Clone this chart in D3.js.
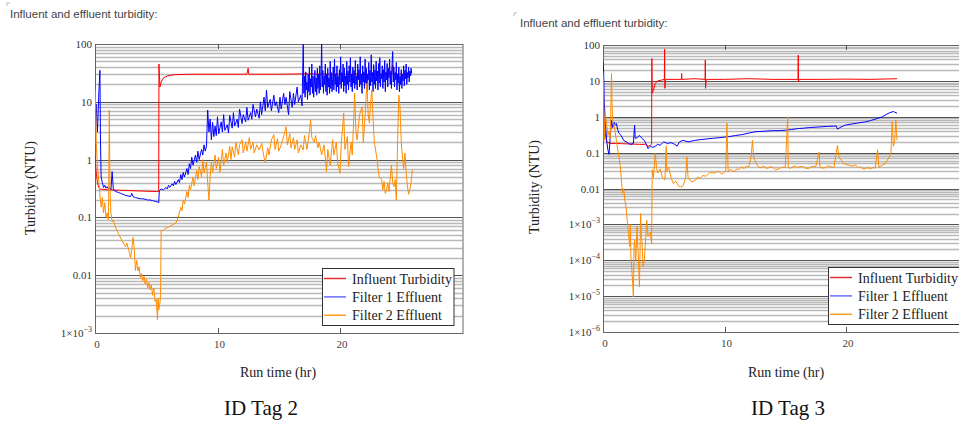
<!DOCTYPE html>
<html>
<head>
<meta charset="utf-8">
<script src="https://cdn.jsdelivr.net/npm/d3@7"></script>
<style>
  body { margin: 0; background: #fff; }
  svg { display: block; }
</style>
</head>
<body>
<div id="chart"></div>
<script>
// ---------- data ----------
const xTicks = [0, 10, 20];
const seriesNames = ["Influent Turbidity", "Filter 1 Effluent", "Filter 2 Effluent"];

const tag2YTicks = [100, 10, 1, 0.1, 0.01, 0.001];
const tag2YLabels = ["100", "10", "1", "0.1", "0.01", "1×10^-3"];
const tag3YTicks = [100, 10, 1, 0.1, 0.01, 1e-3, 1e-4, 1e-5, 1e-6];
const tag3YLabels = ["100", "10", "1", "0.1", "0.01", "1×10^-3", "1×10^-4", "1×10^-5", "1×10^-6"];

// ID Tag 2 : [run time (hr), turbidity (NTU)]
const tag2Influent = [
  [0, 1.2], [0.1, 0.6], [0.2, 0.4], [0.3, 0.33], [0.43, 0.31], [1, 0.3], [2, 0.295], [3, 0.29],
  [4, 0.285], [5, 0.28], [5.2, 0.28], [5.22, 45], [5.3, 18], [5.4, 22], [5.6, 26], [5.9, 28],
  [6.5, 29.5], [8, 30], [10, 30], [12.4, 30], [12.5, 38], [12.55, 30], [15, 30], [17, 30.5],
  [20, 30], [24.2, 30], [24.3, 43], [24.35, 30], [25.85, 30]
];
const tag2Filter1 = [
  [0, 5], [0.1, 9], [0.2, 3], [0.3, 12], [0.4, 35], [0.45, 2], [0.5, 0.5], [0.6, 0.4], [0.7, 0.33],
  [0.8, 0.36], [0.9, 0.32], [1.0, 0.34], [1.1, 0.31], [1.2, 0.33], [1.3, 0.3], [1.4, 0.62], [1.5, 0.3],
  [1.7, 0.28], [1.9, 0.27], [2.1, 0.26], [2.3, 0.25], [2.5, 0.24], [2.7, 0.235], [2.9, 0.23], [3.0, 0.26],
  [3.1, 0.23], [3.3, 0.22], [3.5, 0.215], [3.7, 0.21], [3.9, 0.21], [4.1, 0.205], [4.3, 0.2], [4.5, 0.2],
  [4.7, 0.195], [4.9, 0.19], [5.1, 0.185], [5.2, 0.18], [5.25, 0.29], [5.4, 0.31], [5.6, 0.3], [5.8, 0.33],
  [5.9, 0.31], [6.0, 0.36], [6.1, 0.33], [6.3, 0.38], [6.4, 0.35], [6.5, 0.42], [6.6, 0.37], [6.8, 0.45],
  [6.9, 0.4], [7.0, 0.55], [7.1, 0.45], [7.2, 0.6], [7.3, 0.5], [7.5, 0.7], [7.6, 0.55], [7.7, 0.85],
  [7.8, 0.7], [7.9, 1.1], [8.0, 0.8], [8.2, 1.2], [8.3, 0.9], [8.4, 1.4], [8.5, 1.0], [8.7, 1.5],
  [8.8, 1.2], [8.9, 1.8], [9.0, 1.4], [9.1, 1.7], [9.2, 7.2], [9.3, 3.0], [9.4, 5.0], [9.5, 2.2],
  [9.6, 4.4], [9.7, 2.5], [9.8, 3.8], [9.9, 2.6], [10.0, 5.5], [10.1, 2.8], [10.3, 4.5], [10.4, 3.0],
  [10.5, 6.0], [10.6, 3.2], [10.8, 4.0], [10.9, 2.9], [11.0, 5.8], [11.2, 3.5], [11.3, 6.5], [11.4, 3.8],
  [11.6, 5.0], [11.7, 3.6], [11.8, 7.5], [12.0, 4.2], [12.1, 6.0], [12.3, 4.5], [12.4, 8.0], [12.5, 4.8],
  [12.7, 6.5], [12.8, 5.0], [12.9, 9.0], [13.1, 5.5], [13.2, 7.5], [13.4, 5.2], [13.5, 10], [13.6, 6.0],
  [13.8, 12], [13.9, 7.0], [14.0, 16], [14.1, 8.0], [14.3, 11], [14.4, 7.0], [14.6, 13], [14.7, 8.5],
  [14.8, 10], [15.0, 6.5], [15.1, 12], [15.2, 7.5], [15.4, 14], [15.5, 9.0], [15.6, 12], [15.8, 6.0],
  [15.9, 15], [16.1, 8.0], [16.2, 14], [16.3, 9.0], [16.5, 18], [16.6, 10], [16.8, 13], [16.9, 8.5],
  [17.00, 100], [17.05, 14], [17.10, 28], [17.15, 12], [17.20, 33], [17.25, 16], [17.30, 22], [17.35, 11],
  [17.40, 30], [17.45, 15], [17.50, 40], [17.55, 13], [17.60, 25], [17.65, 18], [17.70, 45], [17.75, 14],
  [17.80, 28], [17.85, 12], [17.90, 20], [17.95, 35], [18.00, 15], [18.05, 26], [18.10, 13], [18.15, 38],
  [18.20, 17], [18.25, 30], [18.30, 14], [18.35, 42], [18.40, 16], [18.45, 24], [18.50, 100], [18.55, 18],
  [18.60, 35], [18.65, 14], [18.70, 28], [18.75, 20], [18.80, 45], [18.85, 15], [18.90, 30], [18.95, 13],
  [19.00, 38], [19.05, 18], [19.10, 26], [19.15, 14], [19.20, 50], [19.25, 17], [19.30, 32], [19.35, 15],
  [19.40, 24], [19.45, 40], [19.50, 16], [19.55, 55], [19.60, 20], [19.65, 30], [19.70, 15], [19.75, 42],
  [19.80, 18], [19.85, 28], [19.90, 14], [19.95, 36], [20.00, 20], [20.05, 60], [20.10, 17], [20.15, 32],
  [20.20, 22], [20.25, 45], [20.30, 15], [20.35, 38], [20.40, 19], [20.45, 28], [20.50, 14], [20.55, 50],
  [20.60, 20], [20.65, 34], [20.70, 16], [20.75, 42], [20.80, 22], [20.85, 58], [20.90, 18], [20.95, 30],
  [21.00, 15], [21.05, 40], [21.10, 21], [21.15, 35], [21.20, 17], [21.25, 52], [21.30, 20], [21.35, 28],
  [21.40, 16], [21.45, 45], [21.50, 24], [21.55, 36], [21.60, 18], [21.65, 60], [21.70, 20], [21.75, 30],
  [21.80, 14], [21.85, 42], [21.90, 22], [21.95, 33], [22.00, 17], [22.05, 55], [22.10, 21], [22.15, 38],
  [22.20, 15], [22.25, 30], [22.30, 24], [22.35, 48], [22.40, 16], [22.45, 35], [22.50, 19], [22.55, 65],
  [22.60, 22], [22.65, 32], [22.70, 15], [22.75, 44], [22.80, 20], [22.85, 36], [22.90, 17], [22.95, 50],
  [23.00, 23], [23.05, 34], [23.10, 16], [23.15, 46], [23.20, 21], [23.25, 58], [23.30, 18], [23.35, 30],
  [23.40, 25], [23.45, 42], [23.50, 17], [23.55, 36], [23.60, 22], [23.65, 52], [23.70, 15], [23.75, 33],
  [23.80, 24], [23.85, 46], [23.90, 18], [23.95, 38], [24.00, 26], [24.05, 55], [24.10, 20], [24.15, 34],
  [24.20, 17], [24.25, 45], [24.30, 74], [24.35, 22], [24.40, 40], [24.45, 18], [24.50, 32], [24.55, 24],
  [24.60, 48], [24.65, 16], [24.70, 30], [24.75, 21], [24.80, 40], [24.85, 15], [24.90, 28], [24.95, 20],
  [25.00, 36], [25.05, 17], [25.10, 30], [25.15, 23], [25.20, 42], [25.25, 19], [25.30, 35], [25.35, 25],
  [25.40, 45], [25.45, 20], [25.50, 32], [25.55, 26], [25.60, 40], [25.65, 22], [25.70, 34], [25.75, 28],
  [25.80, 38], [25.85, 31]
];
const tag2Filter2 = [
  [0, 16], [0.05, 9], [0.1, 2], [0.2, 0.76], [0.3, 0.45], [0.4, 0.25], [0.5, 0.15], [0.6, 0.22],
  [0.7, 0.12], [0.8, 0.18], [0.9, 0.1], [1.0, 0.12], [1.1, 0.09], [1.17, 7.2], [1.22, 0.3], [1.3, 0.12],
  [1.4, 0.085], [1.5, 0.09], [1.6, 0.075], [1.7, 0.065], [1.9, 0.053], [2.0, 0.048], [2.2, 0.04],
  [2.4, 0.034], [2.5, 0.031], [2.6, 0.036], [2.7, 0.03], [2.8, 0.025], [2.9, 0.02], [3.0, 0.028],
  [3.1, 0.045], [3.2, 0.03], [3.3, 0.012], [3.4, 0.018], [3.5, 0.0118], [3.6, 0.014], [3.7, 0.009],
  [3.8, 0.0107], [3.9, 0.008], [4.0, 0.0095], [4.1, 0.007], [4.2, 0.0085], [4.3, 0.006], [4.4, 0.0075],
  [4.5, 0.0056], [4.6, 0.0068], [4.7, 0.0045], [4.8, 0.006], [4.9, 0.0035], [5.0, 0.0038], [5.1, 0.0017],
  [5.15, 0.004], [5.2, 0.0025], [5.3, 0.0033], [5.35, 0.0045], [5.4, 0.06], [5.5, 0.058], [5.7, 0.064],
  [5.9, 0.066], [6.1, 0.07], [6.3, 0.074], [6.6, 0.08], [6.8, 0.1], [7.0, 0.15], [7.1, 0.13], [7.2, 0.2],
  [7.3, 0.17], [7.5, 0.28], [7.6, 0.22], [7.7, 0.36], [7.8, 0.3], [8.0, 0.5], [8.1, 0.35], [8.3, 0.65],
  [8.4, 0.45], [8.5, 0.76], [8.7, 0.5], [8.8, 1.0], [8.9, 0.6], [9.1, 0.9], [9.2, 0.4], [9.3, 0.2],
  [9.4, 0.5], [9.5, 0.9], [9.6, 0.6], [9.8, 1.2], [9.9, 0.7], [10.1, 1.1], [10.2, 0.6], [10.4, 1.5],
  [10.5, 0.8], [10.7, 1.3], [10.8, 0.9], [11.0, 1.7], [11.1, 1.0], [11.2, 1.66], [11.4, 1.1], [11.5, 2.0],
  [11.7, 1.2], [11.8, 1.8], [12.0, 2.2], [12.1, 1.3], [12.3, 2.0], [12.4, 1.4], [12.6, 2.4], [12.7, 1.5],
  [12.9, 2.0], [13.0, 1.3], [13.2, 1.8], [13.4, 1.47], [13.6, 1.9], [13.8, 1.1], [13.9, 0.88], [14.1, 1.6],
  [14.2, 1.2], [14.4, 2.2], [14.6, 2.7], [14.7, 1.5], [14.9, 2.3], [15.0, 1.4], [15.2, 1.8], [15.4, 2.5],
  [15.6, 3.7], [15.7, 1.8], [15.9, 2.8], [16.0, 1.6], [16.2, 2.4], [16.3, 1.5], [16.5, 2.2], [16.6, 1.3],
  [16.8, 1.8], [17.0, 1.47], [17.1, 2.6], [17.3, 1.5], [17.5, 3.0], [17.6, 4.9], [17.7, 2.4], [17.9, 2.0],
  [18.0, 2.6], [18.2, 1.6], [18.3, 2.0], [18.5, 1.2], [18.7, 1.8], [18.9, 0.62], [19.0, 1.5], [19.2, 0.8],
  [19.4, 2.2], [19.5, 1.2], [19.7, 2.0], [19.8, 0.9], [20.0, 0.58], [20.1, 1.8], [20.3, 6.4], [20.4, 1.5],
  [20.6, 2.5], [20.7, 0.76], [20.9, 2.0], [21.0, 1.2], [21.2, 14], [21.3, 3.0], [21.4, 2.2], [21.6, 6.0],
  [21.8, 8.2], [21.9, 2.0], [22.0, 4.0], [22.2, 21], [22.3, 6.0], [22.4, 4.3], [22.5, 10], [22.6, 16],
  [22.7, 5.0], [22.8, 2.0], [23.0, 1.1], [23.1, 0.7], [23.2, 0.5], [23.4, 0.45], [23.5, 0.3], [23.6, 0.42],
  [23.7, 0.26], [23.8, 0.3], [23.9, 0.4], [24.0, 0.28], [24.2, 0.81], [24.3, 0.4], [24.4, 0.34],
  [24.5, 0.45], [24.6, 0.2], [24.7, 2.0], [24.8, 13], [24.9, 8], [25.0, 2.0], [25.1, 1.1], [25.2, 0.7],
  [25.3, 1.3], [25.4, 0.6], [25.5, 0.35], [25.6, 0.25], [25.7, 0.3], [25.8, 0.4], [25.9, 0.66]
];

// ID Tag 3
const tag3Influent = [
  [0, 2], [0.05, 1.0], [0.15, 0.4], [0.3, 0.2], [0.6, 0.18], [1, 0.18], [2, 0.175], [3, 0.17],
  [3.5, 0.17], [3.7, 0.15], [3.9, 0.16], [4.0, 0.17], [4.02, 42], [4.05, 4.5], [4.15, 5.5], [4.3, 8.5],
  [4.5, 10], [4.8, 10.5], [5.05, 11], [5.07, 76], [5.09, 6.2], [5.15, 11], [6.0, 11], [6.45, 11],
  [6.47, 16], [6.5, 11], [7.5, 11.5], [8.4, 11], [8.42, 38], [8.44, 6.2], [8.5, 11], [10, 11],
  [12, 11.5], [14, 11], [16.05, 11], [16.07, 52], [16.09, 9.4], [16.15, 11], [18, 11], [20, 11.2],
  [22, 11], [24.2, 11.5]
];
const tag3Filter1 = [
  [0, 34], [0.05, 20], [0.1, 2.9], [0.2, 0.6], [0.3, 0.22], [0.4, 0.12], [0.5, 0.09], [0.6, 0.3],
  [0.7, 0.8], [0.8, 0.5], [0.9, 0.7], [1.0, 0.6], [1.1, 0.65], [1.2, 0.45], [1.3, 0.35], [1.5, 0.3],
  [1.7, 0.22], [1.9, 0.2], [2.1, 0.18], [2.3, 0.17], [2.5, 0.18], [2.6, 0.58], [2.65, 0.25], [2.8, 0.26],
  [3.0, 0.3], [3.2, 0.25], [3.4, 0.22], [3.6, 0.16], [3.7, 0.13], [3.9, 0.15], [4.1, 0.14], [4.3, 0.15],
  [4.5, 0.17], [4.7, 0.16], [5.0, 0.2], [5.3, 0.18], [5.6, 0.19], [5.9, 0.17], [6.1, 0.152], [6.3, 0.2],
  [6.6, 0.22], [7.0, 0.2], [7.6, 0.22], [8.0, 0.23], [8.5, 0.24], [9.0, 0.25], [9.8, 0.265], [10.4, 0.28],
  [10.9, 0.3], [11.5, 0.32], [12.0, 0.35], [12.5, 0.38], [13.0, 0.39], [13.5, 0.4], [14.0, 0.41],
  [14.5, 0.41], [15.0, 0.42], [15.5, 0.44], [16.1, 0.47], [16.5, 0.48], [17.0, 0.5], [17.8, 0.52],
  [18.5, 0.54], [19.2, 0.55], [19.3, 0.45], [19.5, 0.5], [19.9, 0.58], [20.5, 0.63], [21.0, 0.67],
  [21.6, 0.72], [22.0, 0.78], [22.6, 0.9], [23.0, 1.0], [23.3, 1.15], [23.6, 1.3], [23.9, 1.4], [24.2, 1.25]
];
const tag3Filter2 = [
  [0, 17], [0.05, 5], [0.1, 0.22], [0.2, 1.2], [0.3, 0.6], [0.4, 0.3], [0.5, 0.4], [0.6, 0.25],
  [0.7, 16], [0.75, 2.0], [0.8, 0.8], [0.95, 0.5], [1.1, 0.22], [1.25, 0.1], [1.4, 0.048], [1.5, 0.02],
  [1.6, 0.0073], [1.7, 0.01], [1.8, 0.0047], [1.9, 0.003], [2.0, 0.0012], [2.1, 5.5e-4], [2.2, 2.4e-4],
  [2.25, 1e-3], [2.3, 1.2e-4], [2.4, 4e-5], [2.5, 9.5e-6], [2.55, 2e-4], [2.6, 3.6e-4], [2.7, 1e-4],
  [2.8, 8.6e-4], [2.85, 3e-4], [2.9, 1.5e-4], [3.0, 1.8e-5], [3.05, 2e-4], [3.1, 2e-3], [3.15, 5e-4],
  [3.2, 3.6e-4], [3.3, 6.5e-5], [3.4, 1e-4], [3.6, 1.3e-3], [3.7, 4.6e-4], [3.9, 6e-4], [4.0, 2.9e-4],
  [4.05, 0.033], [4.15, 0.02], [4.3, 0.095], [4.4, 0.04], [4.5, 0.027], [4.7, 0.035], [4.9, 0.02],
  [5.1, 0.0176], [5.2, 0.15], [5.25, 0.03], [5.4, 0.04], [5.6, 0.02], [5.8, 0.0138], [6.0, 0.016],
  [6.2, 0.012], [6.4, 0.011], [6.6, 0.012], [6.8, 0.02], [6.9, 0.076], [7.0, 0.02], [7.3, 0.015],
  [7.6, 0.017], [7.8, 0.021], [8.0, 0.019], [8.2, 0.023], [8.5, 0.022], [8.8, 0.028], [9.2, 0.027],
  [9.5, 0.03], [9.8, 0.025], [10.1, 0.03], [10.2, 0.66], [10.3, 0.03], [10.5, 0.034], [10.8, 0.029],
  [11.0, 0.035], [11.2, 0.034], [11.4, 0.04], [11.6, 0.036], [11.8, 0.042], [12.0, 0.04], [12.2, 0.08],
  [12.3, 0.22], [12.4, 0.076], [12.6, 0.05], [12.8, 0.04], [13.0, 0.038], [13.2, 0.042], [13.5, 0.036],
  [13.8, 0.041], [14.0, 0.038], [14.2, 0.033], [14.5, 0.036], [14.8, 0.04], [15.0, 0.038], [15.2, 1.0],
  [15.25, 0.04], [15.4, 0.036], [15.6, 0.04], [15.8, 0.043], [16.0, 0.038], [16.2, 0.041], [16.5, 0.04],
  [16.7, 0.036], [17.0, 0.037], [17.2, 0.042], [17.5, 0.04], [17.8, 0.105], [17.85, 0.04], [18.0, 0.037],
  [18.3, 0.038], [18.5, 0.043], [18.8, 0.04], [19.0, 0.038], [19.3, 0.16], [19.4, 0.08], [19.5, 0.07],
  [19.8, 0.05], [20.0, 0.047], [20.2, 0.045], [20.5, 0.042], [20.8, 0.045], [21.0, 0.038], [21.2, 0.04],
  [21.4, 0.035], [21.6, 0.036], [21.8, 0.038], [22.0, 0.035], [22.2, 0.038], [22.4, 0.037], [22.6, 0.12],
  [22.7, 0.04], [23.0, 0.045], [23.2, 0.048], [23.5, 0.07], [23.7, 0.095], [23.8, 0.73], [23.9, 0.15],
  [24.0, 0.2], [24.1, 0.8], [24.2, 0.22]
];

// ---------- drawing ----------
const colors = ["#ff0000", "#0000ff", "#ff8c00"];
const legendColors = ["#e03030", "#6b6bff", "#ff9a1a"];
const serif = "'Liberation Serif', 'Times New Roman', serif";

const svg = d3.select("#chart").append("svg")
    .attr("width", 959)
    .attr("height", 424)
    .style("background", "#fff");

function drawPanel(p) {
    let g = svg.append("g");

    // little caption above each chart
    g.append("path")
        .attr("d", `M${p.markX},${p.markY + 3}V${p.markY}H${p.markX + 3}`)
        .attr("fill", "none").attr("stroke", "#bbb").attr("stroke-width", 1);
    g.append("text")
        .attr("x", p.titleX).attr("y", p.titleY)
        .style("font-family", "'Liberation Sans', Arial, sans-serif")
        .style("font-size", "11.5px")
        .attr("fill", "#444")
        .text("Influent and effluent turbidity:");

    // scales
    let x = d3.scaleLinear().domain([0, 30]).range([p.left, p.left + p.xUnit * 30]);
    let y = d3.scaleLog().domain([p.yTicks[p.yTicks.length - 1], p.yTicks[0]]).range([p.bottom, p.top]);
    let right = Math.min(x(30), 970);

    // grid lines: minor then decade
    let minor = [];
    p.yTicks.slice(1).forEach(d => {
        for (let k = 2; k <= 9; k++) minor.push(d * k);
    });
    g.append("g").selectAll("line").data(minor).join("line")
        .attr("x1", p.left).attr("x2", right)
        .attr("y1", d => Math.round(y(d)) + 0.5).attr("y2", d => Math.round(y(d)) + 0.5)
        .attr("stroke", "#b9b9b9").attr("stroke-width", 1.5);
    g.append("g").selectAll("line").data(p.yTicks).join("line")
        .attr("x1", p.left).attr("x2", right)
        .attr("y1", d => Math.round(y(d)) + 0.5).attr("y2", d => Math.round(y(d)) + 0.5)
        .attr("stroke", "#555").attr("stroke-width", 1);

    // frame
    g.append("rect")
        .attr("x", p.left + 0.5).attr("y", Math.round(p.top) + 0.5)
        .attr("width", right - p.left).attr("height", Math.round(p.bottom) - Math.round(p.top))
        .attr("fill", "none").attr("stroke", "#666").attr("stroke-width", 1);

    // x ticks on top and bottom edges
    g.append("g").selectAll("path").data(xTicks.slice(1)).join("path")
        .attr("d", d => `M${Math.round(x(d)) + 0.5},${p.top}v5M${Math.round(x(d)) + 0.5},${p.bottom}v-5`)
        .attr("stroke", "#555").attr("stroke-width", 1);

    // series
    let clipId = "clip-" + p.id;
    g.append("clipPath").attr("id", clipId).append("rect")
        .attr("x", p.left).attr("y", p.top).attr("width", right - p.left).attr("height", p.bottom - p.top);
    let line = d3.line().x(d => x(d[0])).y(d => y(d[1]));
    g.append("g").attr("clip-path", `url(#${clipId})`)
        .selectAll("path").data(p.series).join("path")
        .attr("d", d => line(d))
        .attr("fill", "none")
        .attr("stroke", (d, i) => colors[i])
        .attr("stroke-width", 1)
        .attr("stroke-linejoin", "round");

    // y tick labels
    let yl = g.append("g").selectAll("text").data(p.yTicks).join("text")
        .attr("x", p.left - 3)
        .attr("y", d => y(d) + 4)
        .attr("text-anchor", "end")
        .style("font-family", serif)
        .style("font-size", "11px")
        .attr("fill", "#333");
    yl.each(function (d, i) {
        let parts = p.yLabels[i].split("^");
        let t = d3.select(this);
        t.append("tspan").text(parts[0]);
        if (parts[1]) {
            t.append("tspan").attr("dy", -5).style("font-size", "8px").text(parts[1].replace("-", "−"));
        }
    });

    // x tick labels
    g.append("g").selectAll("text").data(xTicks).join("text")
        .attr("x", d => x(d) + 2)
        .attr("y", p.bottom + 15)
        .attr("text-anchor", "middle")
        .style("font-family", serif)
        .style("font-size", "11px")
        .attr("fill", "#444")
        .text(d => d);

    // axis titles
    g.append("text")
        .attr("transform", `translate(${p.yLabelX}, ${p.yLabelY}) rotate(-90)`)
        .attr("text-anchor", "middle")
        .style("font-family", serif)
        .style("font-size", "14px")
        .attr("fill", "#222")
        .text("Turbidity (NTU)");
    g.append("text")
        .attr("x", p.xLabelX).attr("y", 377)
        .attr("text-anchor", "middle")
        .style("font-family", serif)
        .style("font-size", "14px")
        .attr("fill", "#222")
        .text("Run time (hr)");
    g.append("text")
        .attr("x", p.tagX).attr("y", 415)
        .attr("text-anchor", "middle")
        .style("font-family", serif)
        .style("font-size", "21px")
        .attr("fill", "#111")
        .text(p.tag);

    // legend
    let lg = g.append("g").attr("transform", `translate(${p.legendX}, ${p.legendY})`);
    lg.append("rect")
        .attr("x", 0.5).attr("y", 0.5).attr("width", 131.5).attr("height", 57)
        .attr("fill", "#fff").attr("stroke", "#333").attr("stroke-width", 1);
    seriesNames.forEach((name, i) => {
        let cy = 10.5 + i * 18.4;
        lg.append("line")
            .attr("x1", 2).attr("x2", 24).attr("y1", cy).attr("y2", cy)
            .attr("stroke", legendColors[i]).attr("stroke-width", 1.5);
        lg.append("text")
            .attr("x", 30).attr("y", cy + 5)
            .style("font-family", serif)
            .style("font-size", "14px")
            .attr("fill", "#222")
            .text(name);
    });
}

drawPanel({
    id: "tag2", tag: "ID Tag 2",
    left: 95, top: 44, bottom: 333, xUnit: 12.25,
    yTicks: tag2YTicks, yLabels: tag2YLabels,
    series: [tag2Influent, tag2Filter1, tag2Filter2],
    markX: 7, markY: 3, titleX: 10, titleY: 18,
    yLabelX: 35, yLabelY: 188, xLabelX: 278, tagX: 261,
    legendX: 322, legendY: 268
});

drawPanel({
    id: "tag3", tag: "ID Tag 3",
    left: 603, top: 45, bottom: 332, xUnit: 12.15,
    yTicks: tag3YTicks, yLabels: tag3YLabels,
    series: [tag3Influent, tag3Filter1, tag3Filter2],
    markX: 514, markY: 13, titleX: 520, titleY: 27,
    yLabelX: 539, yLabelY: 187, xLabelX: 786, tagX: 788,
    legendX: 828, legendY: 267
});
</script>
</body>
</html>
